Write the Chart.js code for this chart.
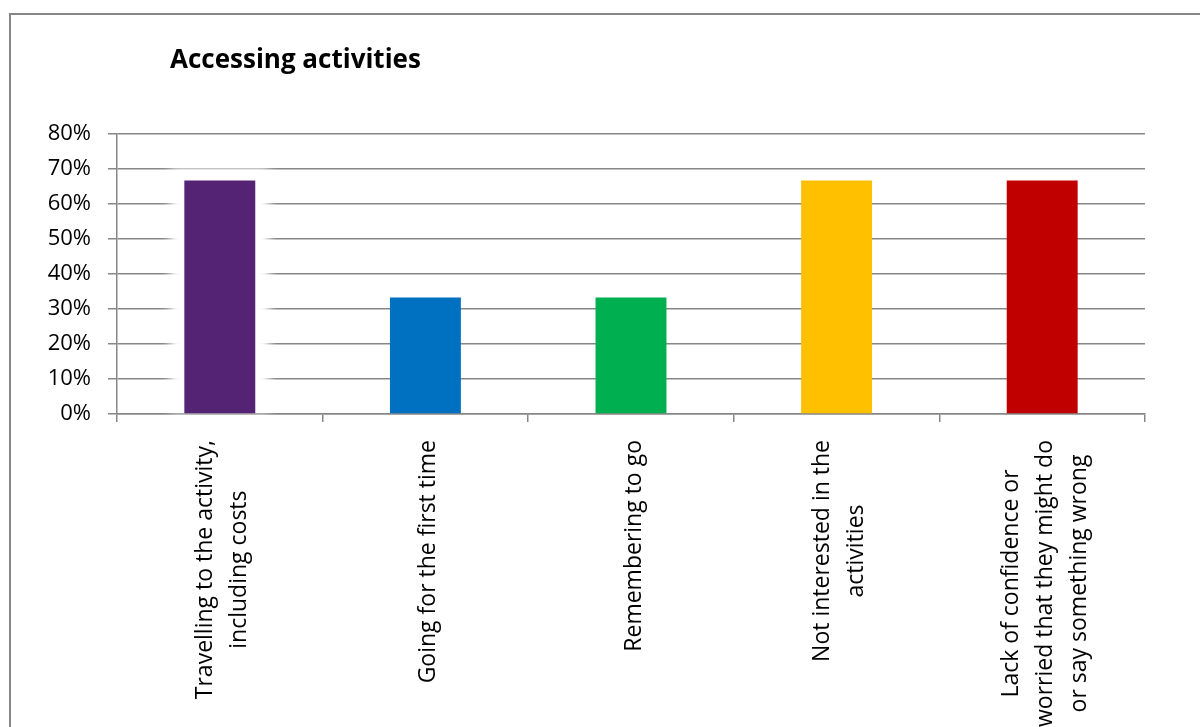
<!DOCTYPE html>
<html>
<head>
<meta charset="utf-8">
<title>Accessing activities</title>
<script src="https://cdn.jsdelivr.net/npm/chart.js@4"></script>
<style>
  html, body { margin: 0; padding: 0; background: #fff; }
  #wrap { width: 1200px; height: 727px; position: relative; }
</style>
</head>
<body>
<div id="wrap"><canvas id="accessChart"></canvas></div>
<script>
const chartTitle = "Accessing activities";
const categories = [
  ["Travelling to the activity,", "including costs"],
  ["Going for the first time"],
  ["Remembering to go"],
  ["Not interested in the", "activities"],
  ["Lack of confidence or", "worried that they might do", "or say something wrong"]
];
const shares = [0.667, 0.333, 0.333, 0.667, 0.667];
const barColours = ["#542373", "#0070C0", "#00B050", "#FFC000", "#C00000"];
const yTicks = [0, 0.1, 0.2, 0.3, 0.4, 0.5, 0.6, 0.7, 0.8];

const FONT = "'Open Sans', sans-serif";
const LINE = "#878787";

// frame, title, soft halo behind the first bar, and the vertical category labels
const decorations = {
  id: "decorations",
  beforeDraw(chart) {
    const ctx = chart.ctx;
    ctx.save();
    ctx.fillStyle = "#fff";
    ctx.fillRect(0, 0, chart.width, chart.height);
    ctx.strokeStyle = LINE;
    ctx.lineWidth = 2;
    ctx.beginPath();
    ctx.moveTo(10, chart.height);
    ctx.lineTo(10, 14);
    ctx.lineTo(chart.width, 14);
    ctx.stroke();
    ctx.fillStyle = "#000";
    ctx.font = "bold 26px " + FONT;
    ctx.textBaseline = "alphabetic";
    ctx.fillText(chartTitle, 170, 68);
    ctx.restore();
  },
  beforeDatasetsDraw(chart) {
    const bar = chart.getDatasetMeta(0).data[0];
    if (!bar) return;
    const ctx = chart.ctx;
    ctx.save();
    ctx.filter = "blur(5px)";
    ctx.fillStyle = "#fff";
    ctx.fillRect(bar.x - bar.width / 2 - 14, bar.y - 12, bar.width + 28, bar.base - bar.y + 10);
    ctx.restore();
  },
  afterDraw(chart) {
    const ctx = chart.ctx;
    const xScale = chart.scales.x;
    const top = chart.chartArea.bottom + 26;
    const lineH = 34;
    ctx.save();
    ctx.fillStyle = "#000";
    ctx.font = "23px " + FONT;
    ctx.textAlign = "center";
    ctx.textBaseline = "middle";
    categories.forEach((lines, i) => {
      const maxW = Math.max(...lines.map(l => ctx.measureText(l).width));
      const x = xScale.getPixelForValue(i) + 3;
      ctx.save();
      ctx.translate(x, top + maxW / 2);
      ctx.rotate(-Math.PI / 2);
      lines.forEach((l, n) => {
        ctx.fillText(l, 0, (n - (lines.length - 1) / 2) * lineH);
      });
      ctx.restore();
    });
    ctx.restore();
  }
};

new Chart(document.getElementById("accessChart"), {
  type: "bar",
  data: {
    labels: categories.map(c => c.join(" ")),
    datasets: [
      {
        label: chartTitle,
        data: shares,
        backgroundColor: barColours,
        borderWidth: 0,
        categoryPercentage: 1,
        barPercentage: 0.345
      }
    ]
  },
  options: {
    responsive: true,
    maintainAspectRatio: false,
    animation: false,
    layout: { padding: { left: 0, right: 55, top: 134, bottom: 0 } },
    plugins: {
      legend: { display: false },
      title: { display: false },
      tooltip: { enabled: false }
    },
    scales: {
      x: {
        grid: { drawOnChartArea: false, color: LINE, lineWidth: 1.5, tickLength: 8, offset: true },
        border: { color: LINE, width: 1.5 },
        ticks: { display: false },
        afterFit(scale) { scale.height = 313; }
      },
      y: {
        min: 0,
        max: 0.8,
        afterBuildTicks(scale) { scale.ticks = yTicks.map(v => ({ value: v })); },
        grid: { color: LINE, lineWidth: 1.5, tickLength: 9 },
        border: { color: LINE, width: 1.5 },
        ticks: {
          padding: 17,
          color: "#000",
          font: { family: FONT, size: 22 },
          callback: v => Math.round(v * 100) + "%"
        },
        afterFit(scale) { scale.width = 117; }
      }
    }
  },
  plugins: [decorations]
});
</script>
</body>
</html>
